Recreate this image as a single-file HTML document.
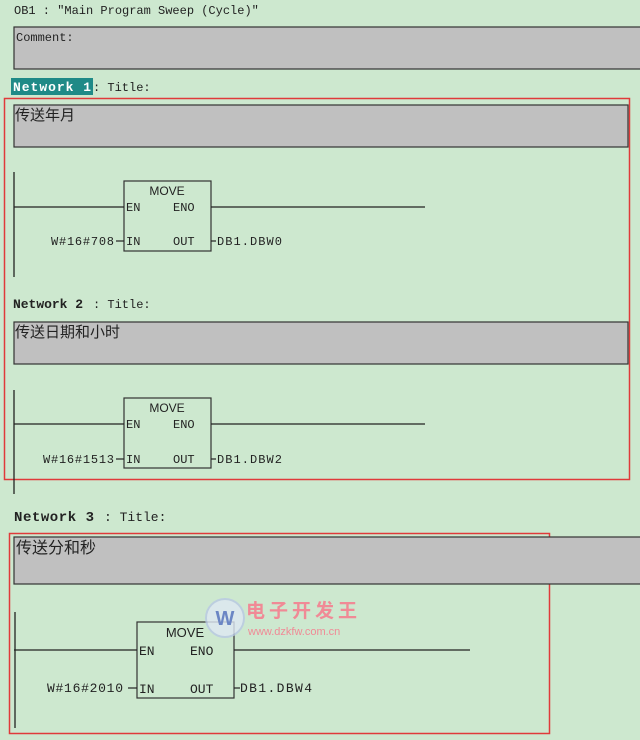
<!DOCTYPE html>
<html><head><meta charset="utf-8"><style>
html,body{margin:0;padding:0;background:#cde8cf;}
svg{display:block}
.m{font-family:"Liberation Mono","Noto Sans CJK SC",monospace;font-size:12px;fill:#222}
.b{font-family:"Liberation Mono",monospace;font-size:13px;font-weight:bold;fill:#222}
.s{font-family:"Liberation Sans",sans-serif;font-size:12px;fill:#222}
.t{font-family:"Liberation Mono",monospace;font-size:12px;fill:#222}
.c{font-family:"Liberation Sans","Noto Sans CJK SC",sans-serif;font-size:15px;fill:#222}
</style></head><body>
<svg width="640" height="740" viewBox="0 0 640 740" xmlns="http://www.w3.org/2000/svg">
<rect width="640" height="740" fill="#cde8cf"/>
<text x="14" y="14" class="m">OB1 :  ″Main Program Sweep (Cycle)″</text>
<rect x="14" y="27" width="640" height="42" fill="#c0c0c0" stroke="#333" stroke-width="1.2"/>
<text x="16" y="41" class="m">Comment:</text>

<!-- Network 1 -->
<rect x="11" y="78" width="82" height="17" fill="#1f8a87"/>
<text x="13" y="91" class="b" style="fill:#fff" textLength="78">Network 1</text>
<text x="93" y="91" class="m">: Title:</text>
<rect x="4.5" y="98.5" width="625" height="381" fill="none" stroke="#e03a3a" stroke-width="1.5"/>
<rect x="14" y="105" width="614" height="42" fill="#c0c0c0" stroke="#333" stroke-width="1.2"/>
<text x="15" y="120" class="c">传送年月</text>
<line x1="14" y1="172" x2="14" y2="277" stroke="#222" stroke-width="1.3"/>
<rect x="124" y="181" width="87" height="70" fill="none" stroke="#333" stroke-width="1.2"/>
<text x="167" y="195" class="s" text-anchor="middle">MOVE</text>
<text x="126" y="211" class="t">EN</text><text x="173" y="211" class="t">ENO</text>
<text x="126" y="245" class="t">IN</text><text x="173" y="245" class="t">OUT</text>
<line x1="14" y1="207" x2="124" y2="207" stroke="#222" stroke-width="1.2"/>
<line x1="211" y1="207" x2="425" y2="207" stroke="#222" stroke-width="1.2"/>
<line x1="116" y1="241" x2="124" y2="241" stroke="#222" stroke-width="1.2"/>
<line x1="211" y1="241" x2="216" y2="241" stroke="#222" stroke-width="1.2"/>
<text x="51" y="245" class="t" textLength="63">W#16#708</text>
<text x="217" y="245" class="t" textLength="65">DB1.DBW0</text>

<!-- Network 2 -->
<text x="13" y="308" class="b" textLength="70">Network 2</text>
<text x="93" y="308" class="m">: Title:</text>
<rect x="14" y="322" width="614" height="42" fill="#c0c0c0" stroke="#333" stroke-width="1.2"/>
<text x="15" y="337" class="c">传送日期和小时</text>
<line x1="14" y1="390" x2="14" y2="494" stroke="#222" stroke-width="1.3"/>
<rect x="124" y="398" width="87" height="70" fill="none" stroke="#333" stroke-width="1.2"/>
<text x="167" y="412" class="s" text-anchor="middle">MOVE</text>
<text x="126" y="428" class="t">EN</text><text x="173" y="428" class="t">ENO</text>
<text x="126" y="463" class="t">IN</text><text x="173" y="463" class="t">OUT</text>
<line x1="14" y1="424" x2="124" y2="424" stroke="#222" stroke-width="1.2"/>
<line x1="211" y1="424" x2="425" y2="424" stroke="#222" stroke-width="1.2"/>
<line x1="116" y1="459" x2="124" y2="459" stroke="#222" stroke-width="1.2"/>
<line x1="211" y1="459" x2="216" y2="459" stroke="#222" stroke-width="1.2"/>
<text x="43" y="463" class="t" textLength="71">W#16#1513</text>
<text x="217" y="463" class="t" textLength="65">DB1.DBW2</text>

<!-- Network 3 -->
<text x="14" y="521" class="b" style="font-size:14px" textLength="80">Network 3</text>
<text x="104" y="521" class="m" style="font-size:13px">: Title:</text>
<rect x="9.5" y="533.5" width="540" height="200" fill="none" stroke="#e03a3a" stroke-width="1.5"/>
<rect x="14" y="537" width="630" height="47" fill="#c0c0c0" stroke="#333" stroke-width="1.2"/>
<text x="16" y="553" class="c" style="font-size:16px">传送分和秒</text>
<line x1="15" y1="612" x2="15" y2="728" stroke="#222" stroke-width="1.3"/>
<rect x="137" y="622" width="97" height="76" fill="none" stroke="#333" stroke-width="1.2"/>
<text x="185" y="637" class="s" text-anchor="middle" style="font-size:13px">MOVE</text>
<text x="139" y="655" class="t" style="font-size:13px">EN</text><text x="190" y="655" class="t" style="font-size:13px">ENO</text>
<text x="139" y="693" class="t" style="font-size:13px">IN</text><text x="190" y="693" class="t" style="font-size:13px">OUT</text>
<line x1="14" y1="650" x2="137" y2="650" stroke="#222" stroke-width="1.2"/>
<line x1="234" y1="650" x2="470" y2="650" stroke="#222" stroke-width="1.2"/>
<line x1="128" y1="688" x2="137" y2="688" stroke="#222" stroke-width="1.2"/>
<line x1="234" y1="688" x2="240" y2="688" stroke="#222" stroke-width="1.2"/>
<text x="47" y="692" class="t" style="font-size:13px" textLength="76">W#16#2010</text>
<text x="240" y="692" class="t" style="font-size:13px" textLength="72">DB1.DBW4</text>

<!-- watermark -->
<circle cx="225" cy="618" r="19" fill="#dfe8f4" stroke="#b8c8e4" stroke-width="2" opacity="0.8"/>
<text x="225" y="625" font-family="Liberation Sans,sans-serif" font-size="20" font-weight="bold" fill="#6b86c4" text-anchor="middle">W</text>
<text x="246" y="617" font-family="Liberation Sans,'Noto Sans CJK SC',sans-serif" font-size="19" font-weight="bold" fill="#f08a96" letter-spacing="4">电子开发王</text>
<text x="248" y="635" font-family="Liberation Sans,sans-serif" font-size="11" fill="#f08a96">www.dzkfw.com.cn</text>
</svg>
</body></html>
